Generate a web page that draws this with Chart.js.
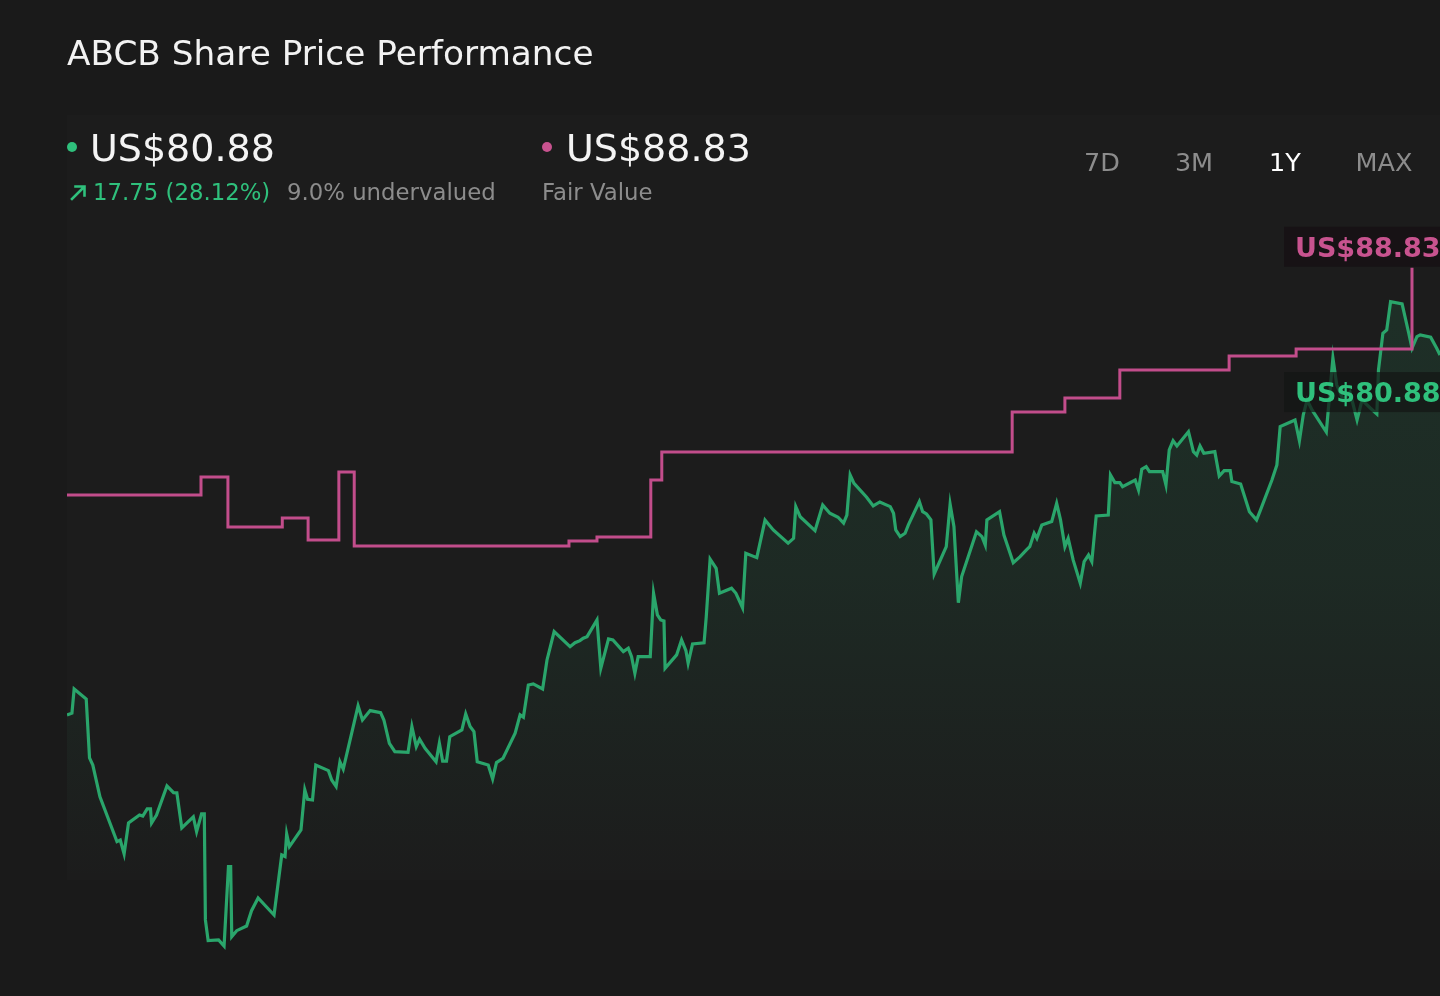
<!DOCTYPE html>
<html>
<head>
<meta charset="utf-8">
<title>ABCB Share Price Performance</title>
<script src="https://cdn.jsdelivr.net/npm/chart.js@4.4.1/dist/chart.umd.min.js"></script>
<style>
    html, body { margin: 0; padding: 0; background: #1a1a1a; overflow: hidden; }
    #wrap { position: relative; width: 1440px; height: 996px; }
</style>
</head>
<body>
<div id="wrap"><canvas id="priceChart" width="1440" height="996"></canvas></div>
<script>
// Share price, one year (x = trading day index)
const priceDays = [
    0, 0.9, 1.3, 3.5, 4.1, 4.7, 6.0, 9.1, 9.7, 10.4,
    11.2, 13.2, 13.8, 14.6, 15.2, 15.4, 16.3, 18.2, 19.4, 20.0,
    20.9, 23.0, 23.6, 24.5, 25.0, 25.2, 25.7, 27.6, 28.6, 29.4,
    29.8, 30.0, 30.9, 32.7, 33.6, 34.8, 37.7, 39.1, 39.7, 40.0,
    40.5, 42.6, 43.3, 43.8, 44.7, 45.3, 47.6, 48.2, 49.0, 49.7,
    50.3, 53.0, 53.8, 55.2, 57.1, 57.7, 58.7, 59.7, 62.1, 62.8,
    63.6, 64.2, 65.2, 67.2, 67.8, 68.4, 69.1, 69.7, 71.9, 72.6,
    73.4, 74.1, 74.7, 76.7, 77.5, 78.2, 79.4, 81.6, 82.5, 83.1,
    84.0, 84.9, 86.6, 87.4, 88.7, 91.6, 92.5, 93.4, 94.0, 94.7,
    96.5, 97.2, 98.6, 99.4, 101.3, 102.2, 102.8, 103.4, 104.0, 106.2,
    106.8, 107.5, 108.1, 108.7, 108.9, 111.0, 111.9, 112.7, 113.1, 113.9,
    116.0, 116.4, 117.1, 118.2, 118.8, 121.0, 121.8, 123.0, 123.6, 125.6,
    127.1, 128.6, 131.3, 132.3, 132.7, 133.5, 136.2, 137.6, 138.9, 140.4,
    141.4, 142.0, 142.6, 143.3, 145.6, 146.8, 148.0, 149.9, 150.5, 150.9,
    151.7, 152.6, 153.2, 155.2, 155.8, 156.5, 157.3, 157.9, 160.1, 160.8,
    161.5, 162.3, 162.9, 165.6, 166.6, 167.2, 167.5, 169.8, 170.6, 172.3,
    173.5, 174.7, 175.3, 176.1, 176.6, 177.5, 179.3, 180.2, 180.9, 181.7,
    182.3, 183.2, 184.5, 185.2, 186.0, 186.6, 187.4, 189.6, 190.0, 190.8,
    191.7, 192.2, 194.5, 195.1, 195.7, 196.5, 197.1, 199.5, 200.1, 200.7,
    201.4, 202.1, 204.2, 205.1, 205.7, 206.3, 207.0, 209.0, 209.8, 210.7,
    211.8, 212.1, 213.7, 215.3, 216.6, 217.2, 219.4, 220.3, 220.9, 223.6,
    224.4, 225.1, 225.8, 226.7, 229.3, 230.5, 231.2, 232.4, 233.6, 234.9,
    235.8, 237.3, 238.5, 238.8, 239.6, 240.3, 241.0, 243.1, 244.3, 244.9,
    245.8, 246.4, 248.3, 249.4, 250
];
const prices = [
    63.13, 63.23, 64.62, 64.05, 60.66, 60.25, 58.42, 55.85, 55.94, 55.14,
    56.92, 57.38, 57.32, 57.73, 57.73, 56.92, 57.38, 59.05, 58.66, 58.65,
    56.63, 57.27, 56.42, 57.44, 57.44, 51.35, 50.16, 50.20, 49.85, 54.41,
    54.41, 50.39, 50.73, 51.00, 51.88, 52.61, 51.63, 55.08, 54.99, 56.29,
    55.56, 56.52, 58.82, 58.28, 58.24, 60.25, 59.93, 59.39, 59.02, 60.44,
    60.02, 63.65, 62.84, 63.38, 63.26, 62.84, 61.50, 61.02, 60.98, 62.46,
    61.31, 61.73, 61.21, 60.44, 61.50, 60.48, 60.48, 61.88, 62.27, 63.19,
    62.46, 62.17, 60.44, 60.25, 59.45, 60.39, 60.64, 62.08, 63.13, 63.00,
    64.85, 64.91, 64.62, 66.29, 67.92, 67.05, 67.28, 67.40, 67.54, 67.63,
    68.59, 65.81, 67.50, 67.44, 66.77, 66.96, 66.48, 65.52, 66.48, 66.48,
    70.12, 68.88, 68.59, 68.53, 65.81, 66.58, 67.44, 66.82, 66.10, 67.21,
    67.28, 68.78, 72.09, 71.56, 70.12, 70.41, 70.12, 69.29, 72.42, 72.17,
    74.33, 73.76, 73.00, 73.28, 75.10, 74.52, 73.72, 75.20, 74.72, 74.49,
    74.15, 74.62, 76.92, 76.44, 75.64, 75.14, 75.37, 75.10, 74.72, 73.76,
    73.38, 73.57, 74.05, 75.39, 74.81, 74.68, 74.34, 71.23, 72.80, 75.25,
    73.95, 69.58, 71.08, 73.66, 73.38, 72.90, 74.34, 74.81, 73.47, 71.88,
    72.21, 72.61, 72.80, 73.57, 73.28, 74.05, 74.24, 75.29, 74.34, 72.80,
    73.28, 72.04, 70.70, 71.94, 72.32, 71.94, 74.57, 74.62, 76.92, 76.48,
    76.48, 76.25, 76.63, 76.06, 77.25, 77.40, 77.11, 77.11, 76.35, 78.36,
    78.89, 78.59, 79.41, 78.26, 78.07, 78.59, 78.17, 78.26, 76.86, 77.17,
    77.17, 76.54, 76.40, 74.81, 74.34, 74.81, 76.63, 77.50, 79.70, 80.08,
    78.89, 80.37, 81.23, 80.66, 79.39, 83.65, 82.09, 81.23, 81.69, 80.08,
    81.23, 80.77, 80.43, 82.96, 85.06, 85.25, 86.88, 86.75, 85.08, 84.20,
    84.87, 84.97, 84.84, 84.20, 83.82
];

// Fair value estimate (step changes)
const fairDays = [0, 24.4, 29.3, 39.2, 43.9, 49.5, 52.3, 91.4, 96.5, 106.3, 108.3, 172.1, 181.7, 191.7, 211.6, 223.8, 244.9];
const fairValues = [75.77, 76.81, 73.93, 74.45, 73.19, 77.09, 72.84, 73.13, 73.36, 76.63, 78.24, 80.54, 81.35, 82.96, 83.76, 84.16, 88.83];

// Header figures
const ticker = 'ABCB';
const currentPrice = 80.88;
const priceChange = 17.75;
const priceChangePct = 28.12;
const undervaluedPct = 9.0;
const rangeTabs = ['7D', '3M', '1Y', 'MAX'];
const activeTab = '1Y';

const GREEN = '#2aa56b';
const GREEN_TEXT = '#2fc07c';
const PINK = '#c24d8b';
const PINK_TEXT = '#c8538f';
const GREY_TEXT = '#8c8c8c';
const FONT = '"DejaVu Sans", Verdana, sans-serif';

// panel behind the plot (the line itself may dip below it)
const PANEL_TOP = 115;
const PANEL_BOTTOM = 880;

function toPoints(xs, ys) {
    return xs.map((x, i) => ({ x: x, y: ys[i] }));
}

function drawTag(ctx, text, cy, color, bg) {
    ctx.fillStyle = bg;
    ctx.fillRect(1284, cy - 20, 170, 40);
    ctx.fillStyle = color;
    ctx.font = 'bold 27px ' + FONT;
    ctx.textAlign = 'left';
    ctx.textBaseline = 'alphabetic';
    ctx.fillText(text, 1295, cy + 10);
}

const chartDecor = {
    id: 'chartDecor',
    beforeDraw(chart) {
        const { ctx, chartArea: a } = chart;
        ctx.save();
        ctx.fillStyle = '#1c1c1c';
        ctx.fillRect(a.left, PANEL_TOP, a.right - a.left, PANEL_BOTTOM - PANEL_TOP);
        ctx.restore();
    },
    afterDatasetsDraw(chart) {
        const ctx = chart.ctx;
        const yScale = chart.scales.y;
        const lastFair = fairValues[fairValues.length - 1];
        ctx.save();
        drawTag(ctx, 'US$' + lastFair.toFixed(2), yScale.getPixelForValue(lastFair) - 21, PINK_TEXT, 'rgba(23,18,21,0.95)');
        drawTag(ctx, 'US$' + currentPrice.toFixed(2), yScale.getPixelForValue(currentPrice) - 14, GREEN_TEXT, 'rgba(20,22,21,0.72)');
        ctx.restore();
    },
    afterDraw(chart) {
        const ctx = chart.ctx;
        const lastFair = fairValues[fairValues.length - 1];
        ctx.save();
        ctx.textBaseline = 'alphabetic';
        ctx.textAlign = 'left';

        // Title
        ctx.fillStyle = '#f2f2f2';
        ctx.font = '34.3px ' + FONT;
        ctx.fillText(ticker + ' Share Price Performance', 67, 65);

        // Current price
        ctx.fillStyle = GREEN_TEXT;
        ctx.beginPath();
        ctx.arc(72, 147, 5, 0, Math.PI * 2);
        ctx.fill();
        ctx.fillStyle = '#f4f4f4';
        ctx.font = '38px ' + FONT;
        ctx.fillText('US$' + currentPrice.toFixed(2), 90, 161);

        // Change arrow
        ctx.strokeStyle = GREEN_TEXT;
        ctx.lineWidth = 2.6;
        ctx.lineCap = 'square';
        ctx.beginPath();
        ctx.moveTo(72, 199);
        ctx.lineTo(84, 187);
        ctx.moveTo(75.5, 186.5);
        ctx.lineTo(84.5, 186.5);
        ctx.lineTo(84.5, 195.5);
        ctx.stroke();

        ctx.font = '22.8px ' + FONT;
        ctx.fillStyle = GREEN_TEXT;
        ctx.fillText(priceChange.toFixed(2) + ' (' + priceChangePct.toFixed(2) + '%)', 93, 200);
        ctx.fillStyle = GREY_TEXT;
        ctx.fillText(undervaluedPct.toFixed(1) + '% undervalued', 287, 200);

        // Fair value
        ctx.fillStyle = PINK_TEXT;
        ctx.beginPath();
        ctx.arc(547, 147, 5, 0, Math.PI * 2);
        ctx.fill();
        ctx.fillStyle = '#f4f4f4';
        ctx.font = '38px ' + FONT;
        ctx.fillText('US$' + lastFair.toFixed(2), 566, 161);
        ctx.fillStyle = GREY_TEXT;
        ctx.font = '22.8px ' + FONT;
        ctx.fillText('Fair Value', 542, 200);

        // Range tabs
        const tabX = [1102, 1194, 1285, 1384];
        ctx.font = '25.5px ' + FONT;
        ctx.textAlign = 'center';
        rangeTabs.forEach((tab, i) => {
            ctx.fillStyle = tab === activeTab ? '#ffffff' : GREY_TEXT;
            ctx.fillText(tab, tabX[i], 171);
        });
        ctx.restore();
    }
};

const ctx = document.getElementById('priceChart').getContext('2d');
new Chart(ctx, {
    type: 'line',
    data: {
        datasets: [
            {
                label: 'Fair Value',
                data: toPoints(fairDays, fairValues),
                borderColor: PINK,
                borderWidth: 3,
                stepped: true,
                pointRadius: 0,
                fill: false
            },
            {
                label: 'Share Price',
                data: toPoints(priceDays, prices),
                borderColor: GREEN,
                borderWidth: 3.2,
                tension: 0,
                pointRadius: 0,
                fill: 'start',
                backgroundColor: function(context) {
                    const { ctx, chartArea } = context.chart;
                    if (!chartArea) return 'rgba(0,0,0,0)';
                    const g = ctx.createLinearGradient(0, PANEL_TOP, 0, PANEL_BOTTOM);
                    g.addColorStop(0, 'rgba(42,165,107,0.17)');
                    g.addColorStop(0.6, 'rgba(42,165,107,0.10)');
                    g.addColorStop(1, 'rgba(42,165,107,0)');
                    return g;
                }
            }
        ]
    },
    options: {
        responsive: false,
        devicePixelRatio: 1,
        animation: false,
        events: [],
        layout: { padding: { left: 67, top: 115, right: 0, bottom: 26 } },
        scales: {
            x: { type: 'linear', min: 0, max: 250, display: false },
            y: { min: 48.47, max: 97.61, display: false }
        },
        plugins: {
            legend: { display: false },
            tooltip: { enabled: false }
        }
    },
    plugins: [chartDecor]
});
</script>
</body>
</html>
